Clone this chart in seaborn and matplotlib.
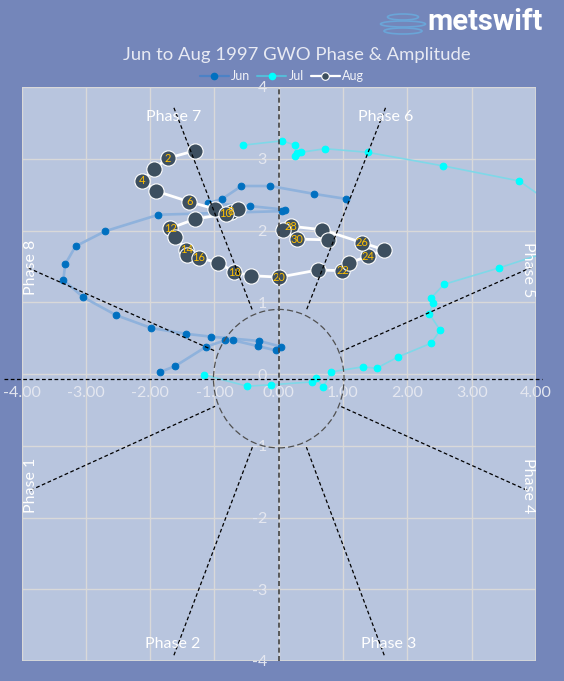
import matplotlib
matplotlib.use("Agg")
import matplotlib.pyplot as plt
import pandas as pd
import seaborn as sns
from matplotlib.lines import Line2D
from matplotlib.patches import Ellipse, Rectangle

jun_x = [-1.84,-1.61,-1.13,-0.83,-0.71,-0.33,-0.05,0.04,-0.30,-1.05,-1.44,-1.98,-2.53,-3.04,-3.35,-3.32,-3.16,-2.70,-1.87,0.05,0.10,-0.44,-1.10,-0.88,-0.58,-0.13,0.55,1.05]
jun_y = [0.03,0.11,0.38,0.47,0.47,0.39,0.33,0.38,0.46,0.52,0.56,0.64,0.82,1.07,1.31,1.53,1.78,1.99,2.22,2.27,2.29,2.34,2.38,2.44,2.62,2.62,2.51,2.44]
jul_x = [-1.17,-0.49,-0.12,0.52,0.58,0.69,0.82,1.31,1.52,1.86,2.37,2.51,2.34,2.40,2.37,2.57,3.43,4.42,4.66,4.41,3.74,2.56,1.38,0.72,0.35,0.29,0.26,0.26,0.05,-0.55]
jul_y = [-0.01,-0.17,-0.15,-0.11,-0.06,-0.18,0.03,0.10,0.08,0.24,0.43,0.61,0.84,0.99,1.06,1.25,1.48,1.77,1.98,2.27,2.69,2.90,3.09,3.14,3.09,3.08,3.04,3.19,3.25,3.19]
aug_x = [-1.31,-1.72,-1.94,-2.12,-1.91,-1.39,-0.99,-0.74,-0.63,-0.82,-1.30,-1.69,-1.61,-1.44,-1.42,-1.24,-0.94,-0.69,-0.43,0.01,0.61,0.99,1.10,1.38,1.64,1.30,0.68,0.19,0.07,0.29,0.77]
aug_y = [3.11,3.01,2.86,2.69,2.55,2.40,2.30,2.26,2.30,2.23,2.16,2.03,1.91,1.73,1.66,1.62,1.55,1.42,1.37,1.35,1.45,1.44,1.55,1.64,1.73,1.83,2.01,2.06,2.01,1.88,1.87]
aug_days = list(range(1, 32))

phase_lines = [
    ((-1.63, 3.71), (-0.41, 0.89)), ((1.66, 3.71), (0.43, 0.89)),
    ((-3.90, 1.48), (-0.99, 0.32)), ((3.94, 1.49), (0.96, 0.31)),
    ((-3.86, -1.62), (-0.99, -0.45)), ((3.86, -1.62), (0.96, -0.45)),
    ((-1.63, -3.92), (-0.41, -1.02)), ((1.64, -3.92), (0.43, -1.02)),
]
phase_labels = [("Phase 7", -1.63, 3.58, 0), ("Phase 6", 1.66, 3.58, 0),
                ("Phase 8", -3.85, 1.48, 90), ("Phase 5", 3.88, 1.45, 270),
                ("Phase 1", -3.85, -1.55, 90), ("Phase 4", 3.88, -1.55, 270),
                ("Phase 2", -1.65, -3.76, 0), ("Phase 3", 1.71, -3.77, 0)]
x_ticks = [-4, -3, -2, -1, 0, 1, 2, 3, 4]
y_ticks = [-4, -3, -2, -1, 0, 1, 2, 3, 4]

BG, PLOT, GRID = "#7486BA", "#B8C5DE", "#D9D9D9"
sns.set_theme(style="white")
plt.rcParams["font.family"] = ["Lato", "DejaVu Sans"]

W, H = 564, 681
fig = plt.figure(figsize=(W / 100, H / 100), dpi=100, facecolor=BG)
ax = fig.add_axes([21.5 / W, 1 - 661 / H, (536 - 21.5) / W, (661 - 87) / H], facecolor=PLOT)
ax.set_xlim(-4, 4)
ax.set_ylim(-4, 4)
ax.set_xticks(x_ticks)
ax.set_xticklabels([f"{t:.2f}" for t in x_ticks])
ax.set_yticks(y_ticks)
ax.set_yticklabels([str(t) for t in y_ticks])
for s in ax.spines.values():
    s.set_visible(False)
ax.spines["bottom"].set_position(("data", 0))
ax.spines["left"].set_position(("data", 0))
ax.tick_params(axis="both", length=0, pad=8.5, labelsize=11.5, labelcolor="#E4E7F0")
ax.grid(True, color=GRID, lw=1.0, zorder=0)
ax.set_axisbelow(True)
ax.add_patch(Rectangle((0, 0), 1, 1, transform=ax.transAxes, fill=False, ec=GRID, lw=1.1, zorder=1))


def draw(xs, ys, **kw):
    df = pd.DataFrame({"x": xs, "y": ys})
    sns.lineplot(data=df, x="x", y="y", sort=False, estimator=None, ax=ax, legend=False, **kw)


draw(jun_x, jun_y, color="#8FB2DC", lw=1.9, marker="o", ms=4.8, mfc="#0070C0", mec="#0070C0", zorder=3)
draw(jul_x, jul_y, color="#7FD8E8", lw=1.2, marker="o", ms=4.8, mfc="#00FFFF", mec="#00FFFF", zorder=3)
draw(aug_x, aug_y, color="white", lw=2.0, marker="o", ms=11, mfc="#3D4F5F", mec="white", mew=0.8, zorder=4)
ax.set_xlabel("")
ax.set_ylabel("")

for d, x, y in zip(aug_days, aug_x, aug_y):
    if d % 2 == 0:
        ax.text(x, y, str(d), color="#FFC000", fontsize=8, ha="center", va="center", zorder=5)

dash = dict(color="black", lw=0.9, ls=(0, (3, 2)), zorder=6)
for (x0, y0), (x1, y1) in phase_lines:
    ax.plot([x0, x1], [y0, y1], **dash)
ax.plot([-4.27, 4.09], [-0.07, -0.07], clip_on=False, **dash)
ax.plot([0, 0], [-4, 4], color="#444444", lw=1.2, ls=(0, (3, 2)), zorder=6)
ax.add_patch(Ellipse((0, -0.065), 2.03, 1.93, fill=False, ec="#505050", lw=0.9, ls=(0, (5, 2.5)), zorder=6))

for txt, x, y, rot in phase_labels:
    ax.text(x, y, txt, color="white", fontsize=11.5, rotation=rot, ha="center", va="center", zorder=7)

fig.text(297 / W, 1 - 55 / H, "Jun to Aug 1997 GWO Phase & Amplitude", color="#E8EAF3",
         fontsize=13.3, ha="center", va="center")

handles = [
    Line2D([], [], color="#4C82C6", lw=1.6, marker="o", ms=4.5, mfc="#0070C0", mec="#0070C0"),
    Line2D([], [], color="#56BBD8", lw=1.5, marker="o", ms=4.5, mfc="#00FFFF", mec="#00FFFF"),
    Line2D([], [], color="white", lw=1.6, marker="o", ms=5.5, mfc="#3D4F5F", mec="white", mew=0.8),
]
leg = fig.legend(handles, ["Jun", "Jul", "Aug"], loc="center", bbox_to_anchor=(282 / W, 1 - 76 / H),
                 ncol=3, frameon=False, fontsize=9, labelcolor="#F2F3F8", handlelength=2.3,
                 handletextpad=0.2, columnspacing=0.55, borderpad=0)

logo = fig.add_axes([0, 0, 1, 1], facecolor="none")
logo.set_xlim(0, W)
logo.set_ylim(H, 0)
logo.axis("off")
for cx, cy, w, h in [(403, 17, 31, 6), (403, 24, 45, 6), (403, 31, 38, 6)]:
    logo.add_patch(Ellipse((cx, cy), w, h, fill=False, ec="#6AA5D8", lw=1.2))
logo.text(485, 22, "metswift", color="white", fontsize=21, fontweight="bold",
          family="Roboto", ha="center", va="center")

fig.savefig("out.png", dpi=100, facecolor=BG)
